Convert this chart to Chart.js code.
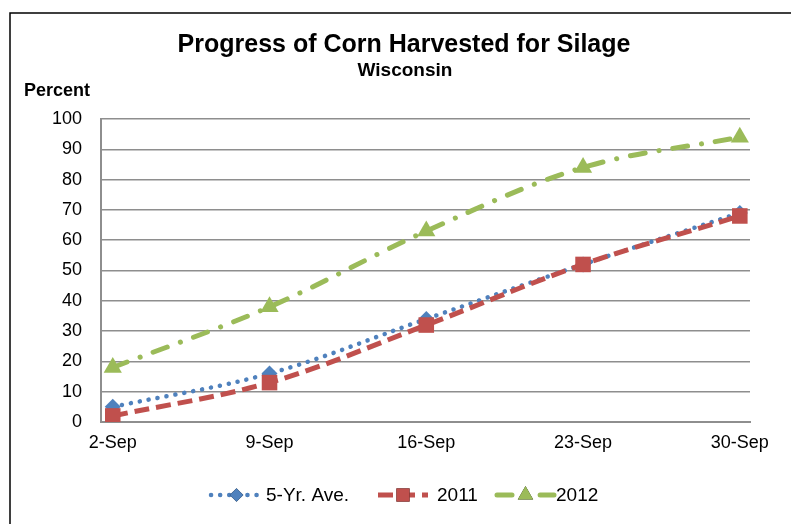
<!DOCTYPE html>
<html>
<head>
<meta charset="utf-8">
<script src="https://cdn.jsdelivr.net/npm/chart.js@4/dist/chart.umd.min.js"></script>
<style>
  html, body { margin: 0; padding: 0; background: #ffffff; }
  #wrap { position: relative; width: 791px; height: 524px; }
</style>
</head>
<body>
<div id="wrap"><canvas id="chart" width="791" height="524"></canvas></div>
<script>
const xLabels = ['2-Sep', '9-Sep', '16-Sep', '23-Sep', '30-Sep'];
const avgValues = [5, 16, 34, 52, 69];
const values2011 = [2, 13, 32, 52, 68];
const values2012 = [18, 38, 63, 84, 94];

const FONT = '"Liberation Sans", Arial, sans-serif';
const BLUE = '#4F81BD';
const RED = '#C0504D';
const GREEN = '#9BBB59';

const toPoints = (values) => values.map((y, x) => ({ x, y }));

const seriesStyles = [
  { label: '5-Yr. Ave.', color: BLUE, dash: [0.1, 9], width: 4.5, cap: 'round', point: 'rectRot', radius: 8 },
  { label: '2011', color: RED, dash: [15, 7], width: 5, cap: 'butt', point: 'rect', radius: 11 },
  { label: '2012', color: GREEN, dash: [15, 14, 0.1, 14], width: 5, cap: 'round', point: 'triangle', radius: 10.5 },
];
const seriesValues = [avgValues, values2011, values2012];

const decorations = {
  id: 'decorations',
  afterDraw: (chart) => {
    const { ctx } = chart;
    ctx.save();

    // outer frame
    ctx.strokeStyle = '#000000';
    ctx.lineWidth = 1.5;
    ctx.beginPath();
    ctx.moveTo(10, 540);
    ctx.lineTo(10, 13);
    ctx.lineTo(800, 13);
    ctx.stroke();

    ctx.fillStyle = '#000000';
    ctx.textAlign = 'center';
    ctx.textBaseline = 'middle';
    ctx.font = `bold 25px ${FONT}`;
    ctx.fillText('Progress of Corn Harvested for Silage', 404, 45);
    ctx.font = `bold 19px ${FONT}`;
    ctx.fillText('Wisconsin', 405, 71);
    ctx.textAlign = 'left';
    ctx.font = `bold 18px ${FONT}`;
    ctx.fillText('Percent', 24, 91);

    // legend
    const items = [
      { x0: 211, x1: 262, text: 266 },
      { x0: 378, x1: 428, text: 437 },
      { x0: 497, x1: 554, text: 556 },
    ];
    const ly = 495;
    items.forEach((item, i) => {
      const s = seriesStyles[i];
      ctx.strokeStyle = s.color;
      ctx.lineWidth = s.width;
      ctx.lineCap = s.cap;
      ctx.setLineDash(s.dash);
      ctx.beginPath();
      ctx.moveTo(item.x0, ly);
      ctx.lineTo(item.x1, ly);
      ctx.stroke();
      ctx.setLineDash([]);
      Chart.helpers.drawPoint(ctx, {
        pointStyle: s.point,
        radius: s.radius * 0.85,
        borderWidth: 0,
        rotation: 0,
      }, (item.x0 + item.x1) / 2, ly);
      ctx.fillStyle = s.color;
      ctx.fill();
      ctx.fillStyle = '#000000';
      ctx.font = `19px ${FONT}`;
      ctx.textBaseline = 'middle';
      ctx.fillText(s.label, item.text, ly + 1);
    });
    ctx.restore();
  },
};

const datasets = seriesStyles.map((s, i) => ({
  label: s.label,
  data: toPoints(seriesValues[i]),
  borderColor: s.color,
  backgroundColor: s.color,
  borderWidth: s.width,
  borderDash: s.dash,
  borderCapStyle: s.cap,
  tension: 0.35,
  pointStyle: s.point,
  pointRadius: s.radius,
  pointBorderWidth: 0,
  pointBackgroundColor: s.color,
  order: 3 - i,
}));

new Chart(document.getElementById('chart').getContext('2d'), {
  type: 'line',
  data: { datasets },
  options: {
    responsive: false,
    animation: false,
    layout: { padding: { top: 119, right: 41, left: 0, bottom: 0 } },
    plugins: {
      legend: { display: false },
      title: { display: false },
      tooltip: { enabled: false },
    },
    scales: {
      x: {
        type: 'linear',
        min: -0.075,
        max: 4.065,
        afterFit: (scale) => { scale.height = 102; },
        afterBuildTicks: (scale) => {
          scale.ticks = xLabels.map((_, i) => ({ value: i }));
        },
        grid: { display: false, drawTicks: false },
        border: { display: true, color: '#8e8e8e', width: 2 },
        ticks: {
          color: '#000000',
          padding: 10,
          font: { family: FONT, size: 18 },
          callback: (value) => xLabels[value] ?? '',
        },
      },
      y: {
        min: 0,
        max: 100,
        afterFit: (scale) => { scale.width = 101; },
        grid: { color: '#8e8e8e', lineWidth: 1.5, drawTicks: false },
        border: { display: true, color: '#8e8e8e', width: 2 },
        ticks: {
          stepSize: 10,
          color: '#000000',
          padding: 19,
          font: { family: FONT, size: 18 },
        },
      },
    },
  },
  plugins: [decorations],
});
</script>
</body>
</html>
